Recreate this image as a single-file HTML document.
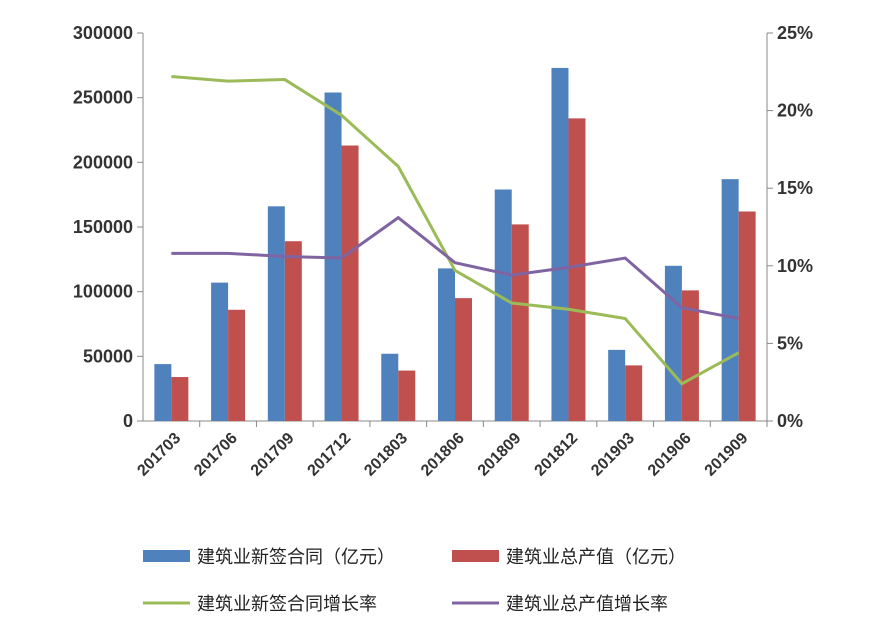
<!DOCTYPE html>
<html><head><meta charset="utf-8"><style>
body{margin:0;background:#fff;}
svg{display:block;font-family:"Liberation Sans","Noto Sans CJK SC",sans-serif;}
</style></head><body>
<svg id="c" width="883" height="632"></svg>
<script>
const categories=["201703","201706","201709","201712","201803","201806","201809","201812","201903","201906","201909"];
const contractValues=[44000,107000,166000,254000,52000,118000,179000,273000,55000,120000,187000];
const outputValues=[34000,86000,139000,213000,39000,95000,152000,234000,43000,101000,162000];
const contractGrowth=[22.2,21.9,22.0,19.7,16.4,9.7,7.6,7.2,6.6,2.4,4.4];
const outputGrowth=[10.8,10.8,10.6,10.5,13.1,10.2,9.4,9.9,10.5,7.3,6.6];
const leftTicks=[0,50000,100000,150000,200000,250000,300000];
const rightTicks=[0,5,10,15,20,25];
const NS="http://www.w3.org/2000/svg";
const svg=document.getElementById('c');
const L=143,R=767,T=33,B=421;
const bw=(R-L)/categories.length;
const yL=v=>B-(v/300000)*(B-T);
const yR=v=>B-(v/25)*(B-T);
const xC=i=>L+bw*(i+0.5);
function mk(tag,attrs,parent){const e=document.createElementNS(NS,tag);for(const k in attrs)e.setAttribute(k,attrs[k]);(parent||svg).appendChild(e);return e;}
let ax=mk('line',{x1:L,y1:T,x2:L,y2:B,stroke:'#888'});


ax=mk('line',{x1:R,y1:T,x2:R,y2:B,stroke:'#888'});


ax=mk('line',{x1:L,y1:B,x2:R,y2:B,stroke:'#888'});


leftTicks.forEach(v=>{
 mk('line',{x1:L-6,y1:yL(v),x2:L,y2:yL(v),stroke:'#888'});
 const t=mk('text',{x:L-10,y:yL(v)+6,'text-anchor':'end','font-size':18,'font-weight':'bold',fill:'#333'});
 t.textContent=v;
 
 
});
rightTicks.forEach(v=>{
 mk('line',{x1:R,y1:yR(v),x2:R+6,y2:yR(v),stroke:'#888'});
 const t=mk('text',{x:R+10,y:yR(v)+6,'text-anchor':'start','font-size':18,'font-weight':'bold',fill:'#333'});
 t.textContent=v+'%';
 
 
});
categories.forEach((c,i)=>{
 mk('line',{x1:L+bw*(i+1),y1:B,x2:L+bw*(i+1),y2:B+6,stroke:'#888'});
 const x=xC(i)+10,y=B+18;
 const t=mk('text',{x:x,y:y,'text-anchor':'end','font-size':16,'font-weight':'bold',fill:'#333',transform:`rotate(-45 ${x} ${y})`});
 t.textContent=c;
 
 
 const b1=mk('rect',{x:xC(i)-17,y:yL(contractValues[i]),width:17,height:B-yL(contractValues[i]),fill:'#4f81bd'});
 
 
 const b2=mk('rect',{x:xC(i),y:yL(outputValues[i]),width:17,height:B-yL(outputValues[i]),fill:'#c0504d'});
 
 
});
let p=mk('polyline',{points:contractGrowth.map((v,i)=>xC(i)+','+yR(v)).join(' '),fill:'none',stroke:'#9bbb59','stroke-width':3});


p=mk('polyline',{points:outputGrowth.map((v,i)=>xC(i)+','+yR(v)).join(' '),fill:'none',stroke:'#8064a2','stroke-width':3});


const leg=[["建筑业新签合同（亿元）",'#4f81bd','rect',143,556],["建筑业总产值（亿元）",'#c0504d','rect',452,556],["建筑业新签合同增长率",'#9bbb59','line',143,603],["建筑业总产值增长率",'#8064a2','line',452,603]];
leg.forEach(l=>{
 const g=mk('g',{});
 
 
 if(l[2]=='rect')mk('rect',{x:l[3],y:l[4]-6,width:47,height:12,fill:l[1]},g);
 else mk('line',{x1:l[3],y1:l[4],x2:l[3]+47,y2:l[4],stroke:l[1],'stroke-width':3},g);
 const t=mk('text',{x:l[3]+54,y:l[4]+7,'font-size':18,fill:'#222'},g);
 t.textContent=l[0];
});
</script>
</body></html>
